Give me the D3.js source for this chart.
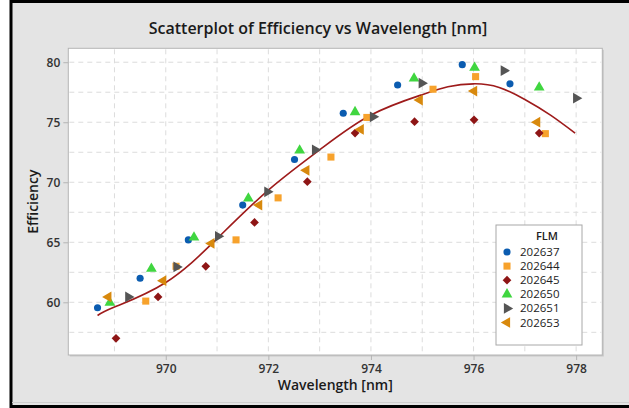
<!DOCTYPE html>
<html>
<head>
<meta charset="utf-8">
<script src="https://cdn.jsdelivr.net/npm/d3@7"></script>
<style>
  body { margin: 0; background: #fff; }
  text { font-family: "Open Sans", "Noto Sans", sans-serif; }
</style>
</head>
<body>
<script>
// Datos
var series = ["202637", "202644", "202645", "202650", "202651", "202653"];

var wl202637 = [968.67, 969.50, 970.44, 971.50, 972.51, 973.46, 974.52, 975.78, 976.71];
var ef202637 = [59.55, 62.0, 65.2, 68.1, 71.9, 75.75, 78.1, 79.8, 78.2];

var wl202644 = [969.61, 970.20, 971.37, 972.19, 973.22, 973.92, 975.21, 976.04, 977.40];
var ef202644 = [60.1, 63.0, 65.2, 68.7, 72.1, 75.4, 77.75, 78.8, 74.05];

var wl202645 = [969.03, 969.85, 970.78, 971.73, 972.76, 973.69, 974.85, 976.01, 977.28];
var ef202645 = [57.0, 60.45, 63.0, 66.65, 70.05, 74.1, 75.05, 75.2, 74.1];

var wl202650 = [968.91, 969.72, 970.55, 971.61, 972.61, 973.69, 974.84, 976.02, 977.28];
var ef202650 = [59.97, 62.8, 65.4, 68.65, 72.65, 75.85, 78.65, 79.55, 77.9];

var wl202651 = [969.27, 970.21, 971.02, 971.98, 972.91, 974.04, 974.99, 976.59, 978.00];
var ef202651 = [60.45, 62.95, 65.5, 69.2, 72.7, 75.45, 78.25, 79.3, 77.0];

var wl202653 = [968.88, 969.95, 970.89, 971.82, 972.74, 973.80, 974.95, 976.01, 977.24];
var ef202653 = [60.45, 61.8, 64.9, 68.1, 71.0, 74.4, 76.85, 77.6, 75.0];

// Curva de ajuste
var ajusteX = [968.67, 969.0, 970.0, 971.0, 972.0, 973.0, 974.0, 975.0, 975.5, 976.0, 976.5, 977.0, 977.5, 977.98];
var ajusteY = [58.9, 59.6, 61.65, 65.3, 69.35, 72.7, 75.6, 77.3, 77.95, 78.2, 77.9, 76.9, 75.6, 74.1];

// Ticks
var ticksX = [970, 972, 974, 976, 978];
var ticksY = [60, 65, 70, 75, 80];
var gridX = [969, 970, 971, 972, 973, 974, 975, 976, 977, 978];
var gridY = [57.5, 60, 62.5, 65, 67.5, 70, 72.5, 75, 77.5, 80];

var datosX = [wl202637, wl202644, wl202645, wl202650, wl202651, wl202653];
var datosY = [ef202637, ef202644, ef202645, ef202650, ef202651, ef202653];

// Estilo de cada serie
var colores = ["#0b5cb0", "#f7a22c", "#8e1515", "#40d640", "#555555", "#d8890d"];
var simbolos = [d3.symbolCircle, d3.symbolSquare, d3.symbolSquare, d3.symbolTriangle, d3.symbolTriangle, d3.symbolTriangle];
var tamanos = [40, 50, 38, 50, 50, 50];
var rotaciones = [0, 0, 45, 0, 90, -90];

var ancho = 629, alto = 408;
var izq = 68.3, der = 602.3, arriba = 48.3, abajo = 355;

var svg = d3.select("body").append("svg")
    .attr("width", ancho)
    .attr("height", alto);

// Fondo y marco
svg.append("rect").attr("x", 0).attr("y", 0).attr("width", ancho).attr("height", alto).style("fill", "#fff");
svg.append("rect").attr("x", 11).attr("y", 1.5).attr("width", ancho).attr("height", 405)
    .style("fill", "#e4e4e4").style("stroke", "#000").style("stroke-width", 3);
svg.append("line").attr("x1", 12).attr("x2", ancho).attr("y1", 402.5).attr("y2", 402.5)
    .style("stroke", "#cfcfcf").style("stroke-width", 1);

var x = d3.scaleLinear().domain([968.1, 978.51]).range([izq, der]);
var y = d3.scaleLinear().domain([55.61, 81.16]).range([abajo, arriba]);

// Area del grafico
svg.append("rect").attr("x", izq + 1.5).attr("y", arriba + 1.5).attr("width", der - izq).attr("height", abajo - arriba)
    .style("fill", "#c8c8c8");
svg.append("rect").attr("x", izq).attr("y", arriba).attr("width", der - izq).attr("height", abajo - arriba)
    .style("fill", "#fff").style("stroke", "#b4b4b4").style("stroke-width", 1);

// Cuadricula
svg.selectAll(".gx").data(gridX).enter().append("line")
    .attr("x1", function(d) { return x(d); }).attr("x2", function(d) { return x(d); })
    .attr("y1", arriba + 1).attr("y2", abajo - 1)
    .style("stroke", "#dcdcdc").style("stroke-width", 1).style("stroke-dasharray", "5,4");
svg.selectAll(".gy").data(gridY).enter().append("line")
    .attr("x1", izq + 1).attr("x2", der - 1)
    .attr("y1", function(d) { return y(d); }).attr("y2", function(d) { return y(d); })
    .style("stroke", "#dcdcdc").style("stroke-width", 1).style("stroke-dasharray", "5,4");

// Ejes
var ejeX = svg.append("g").attr("transform", "translate(0," + abajo + ")")
    .call(d3.axisBottom(x).tickValues(ticksX).tickSize(5).tickPadding(4).tickFormat(d3.format("d")));
var ejeY = svg.append("g").attr("transform", "translate(" + izq + ",0)")
    .call(d3.axisLeft(y).tickValues(ticksY).tickSize(5).tickPadding(3).tickFormat(d3.format("d")));
[ejeX, ejeY].forEach(function(e) {
    e.select(".domain").remove();
    e.selectAll(".tick line").style("stroke", "#b4b4b4");
    e.selectAll(".tick text").style("fill", "#333").style("font-size", "12px").style("font-weight", "600")
        .style("font-family", "'Open Sans', sans-serif");
});

// Curva de ajuste
var puntosAjuste = ajusteX.map(function(d, i) { return [d, ajusteY[i]]; });
svg.append("path").datum(puntosAjuste)
    .attr("d", d3.line().x(function(d) { return x(d[0]); }).y(function(d) { return y(d[1]); }).curve(d3.curveNatural))
    .style("fill", "none").style("stroke", "#9e1b1b").style("stroke-width", 1.6);

// Puntos de cada serie
for (var s = 0; s < series.length; s++)
{
    var simbolo = d3.symbol().type(simbolos[s]).size(tamanos[s]);
    svg.append("g").selectAll("path").data(datosX[s]).enter().append("path")
        .attr("d", simbolo)
        .attr("transform", function(d, i) {
            return "translate(" + x(d) + "," + y(datosY[s][i]) + ") rotate(" + rotaciones[s] + ")";
        })
        .style("fill", colores[s]);
}

// Titulos
svg.append("text").attr("x", 318).attr("y", 34).attr("text-anchor", "middle")
    .style("font-size", "16px").style("font-weight", "600").style("fill", "#1a1a1a")
    .text("Scatterplot of Efficiency vs Wavelength [nm]");
svg.append("text").attr("x", (izq + der) / 2).attr("y", 390).attr("text-anchor", "middle")
    .style("font-size", "14px").style("font-weight", "600").style("fill", "#1a1a1a")
    .text("Wavelength [nm]");
svg.append("text").attr("transform", "translate(38," + ((arriba + abajo) / 2) + ") rotate(-90)")
    .attr("text-anchor", "middle")
    .style("font-size", "14px").style("font-weight", "600").style("fill", "#1a1a1a")
    .text("Efficiency");

// Leyenda
var leyenda = svg.append("g");
leyenda.append("rect").attr("x", 496).attr("y", 225).attr("width", 86).attr("height", 120)
    .style("fill", "#fff").style("stroke", "#a8a8a8").style("stroke-width", 1);
leyenda.append("text").attr("x", 547).attr("y", 240).attr("text-anchor", "middle")
    .style("font-size", "11px").style("font-weight", "600").style("fill", "#222").text("FLM");
for (var k = 0; k < series.length; k++)
{
    var yl = 252 + k * 14.1;
    leyenda.append("path")
        .attr("d", d3.symbol().type(simbolos[k]).size(tamanos[k])())
        .attr("transform", "translate(507," + yl + ") rotate(" + rotaciones[k] + ")")
        .style("fill", colores[k]);
    leyenda.append("text").attr("x", 520).attr("y", yl + 4)
        .style("font-size", "11.5px").style("font-weight", "500").style("fill", "#222").text(series[k]);
}
</script>
</body>
</html>
